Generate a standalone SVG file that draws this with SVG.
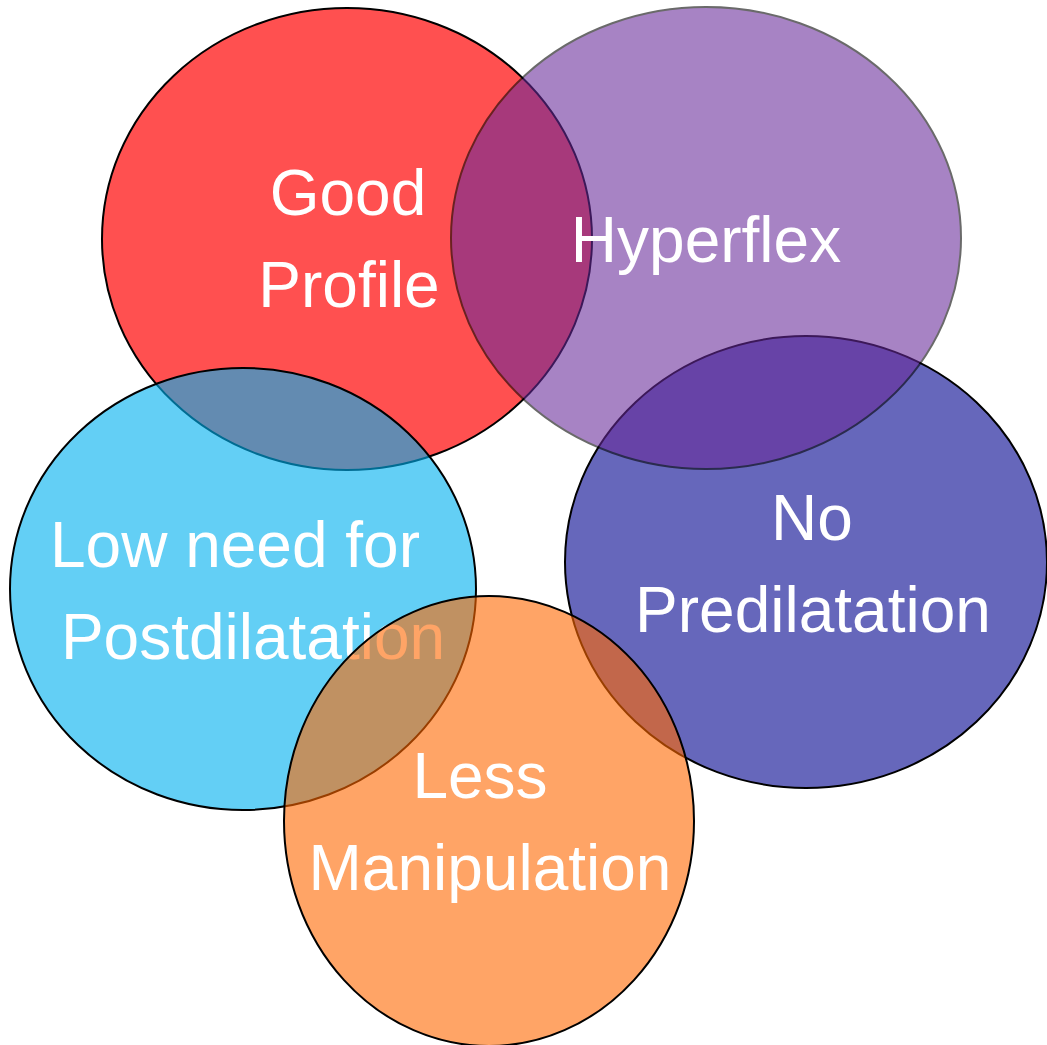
<svg xmlns="http://www.w3.org/2000/svg" width="1047" height="1045" viewBox="0 0 1047 1045">
  <style>
    .lbl { font-family: "Liberation Sans", Arial, sans-serif; font-size: 64px; fill: #FFFFFF; text-anchor: middle; }
    .edge { stroke: #000000; stroke-width: 2; }
  </style>
  <rect x="0" y="0" width="1047" height="1045" fill="#FFFFFF"/>
  <g id="node-good-profile">
    <ellipse class="edge" cx="347" cy="239" rx="245" ry="231" fill="#FF5050"/>
    <text class="lbl" x="348" y="215">Good</text>
    <text class="lbl" x="349" y="307">Profile</text>
  </g>
  <g id="node-no-predilatation">
    <ellipse class="edge" cx="806" cy="562" rx="241" ry="226" fill="#6667BB"/>
    <text class="lbl" x="812" y="540">No</text>
    <text class="lbl" x="813" y="632">Predilatation</text>
  </g>
  <g id="node-hyperflex">
    <ellipse class="edge" cx="706" cy="238" rx="255" ry="231" fill="#682A9A" opacity="0.58"/>
    <text class="lbl" x="706" y="262">Hyperflex</text>
  </g>
  <g id="node-postdilatation">
    <ellipse class="edge" cx="243" cy="589" rx="233" ry="221" fill="#00B0EE" fill-opacity="0.61"/>
    <text class="lbl" x="235" y="567">Low need for</text>
    <text class="lbl" x="253" y="659">Postdilatation</text>
  </g>
  <g id="node-less-manipulation">
    <ellipse class="edge" cx="489" cy="821" rx="205" ry="225" fill="#FF6700" fill-opacity="0.6"/>
    <text class="lbl" x="480" y="798">Less</text>
    <text class="lbl" x="490" y="890">Manipulation</text>
  </g>
</svg>
